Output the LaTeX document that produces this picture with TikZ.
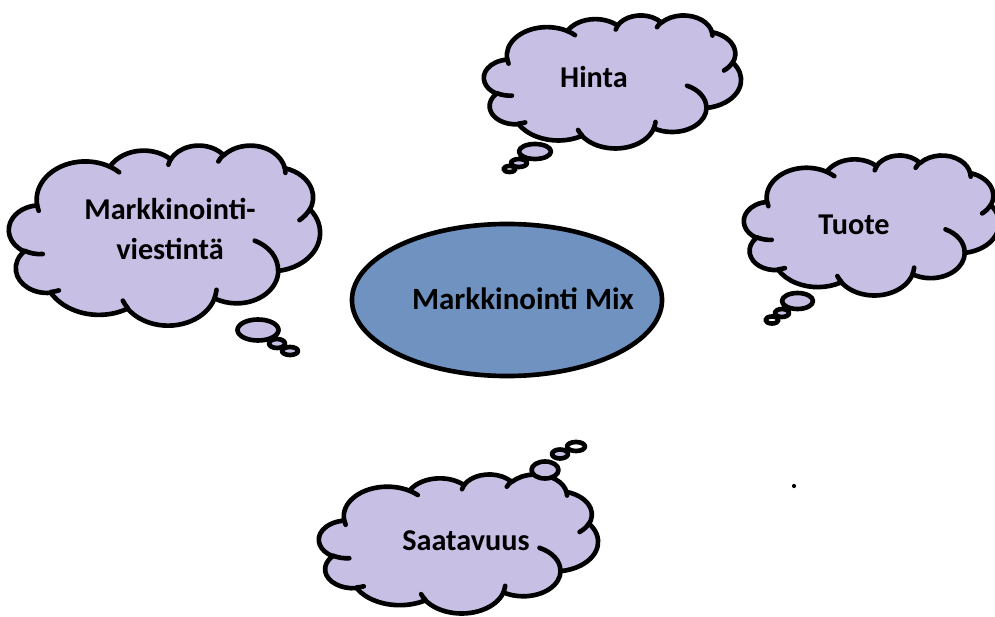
\documentclass[tikz,border=0pt]{standalone}
\usepackage{fontspec}
\setmainfont{Carlito}
\usetikzlibrary{shapes.geometric}

\definecolor{cloudfill}{RGB}{200,191,229}
\definecolor{mixfill}{RGB}{112,146,192}

% elliptic arc with a geometric start angle and sweep
\newcommand\oarc[4]{arc[start angle={pa(#3,#1,#2)},
  delta angle={#4+pd(#3+#4,#1,#2)-pd(#3,#1,#2)}, x radius=#1, y radius=#2]}

% cloud outline in a 432 x 432 box, set at (#1,#2) with size #3 x #4
\newcommand\thoughtcloud[4]{%
  \begin{scope}[shift={(#1,#2)}, xscale=#3/432, yscale=#4/432]
    \filldraw[cloudline] (39,143.7)
      \oarc{67.53}{91.90}{-190.4875}{123.7805}
      \oarc{53.33}{72.67}{-144.1024}{89.9452}
      \oarc{43.65}{59.45}{-145.8079}{99.7230}
      \oarc{48.57}{65.95}{-130.9861}{117.2417}
      \oarc{53.33}{72.73}{-78.7089}{109.0269}
      \oarc{67.75}{92.20}{-46.2673}{130.2690}
      \oarc{57.85}{78.67}{0.6250}{114.0333}
      \oarc{67.52}{92.15}{22.4516}{115.1726}
      \oarc{77.20}{105.43}{66.2426}{75.7110}
      \oarc{43.60}{59.18}{-274.9421}{146.7356}
      \oarc{43.45}{59.45}{-246.8285}{152.5189} -- cycle;
    % inner folds
    \draw[foldline]
      (46.93,261.77) \oarc{43.45}{59.45}{86.7420}{26.4295}
      (69.28,348.99) \oarc{43.60}{59.18}{73.6105}{11.4475}
      (164.78,390.90) \oarc{67.52}{92.15}{137.6242}{14.0811}
      (288.27,347.51) \oarc{67.52}{92.15}{6.4533}{15.9984}
      (341.29,229.54) \oarc{57.85}{78.67}{-70.2924}{70.9174}
      (417.98,153.54) \oarc{53.33}{72.73}{30.3180}{27.7515}
      (383.24,54.26) \oarc{48.57}{65.95}{-13.7443}{14.8589}
      (290.78,39.52) \oarc{48.57}{65.95}{-149.1815}{18.1954}
      (221.41,47.20) \oarc{43.65}{59.45}{-163.4943}{17.6864}
      (140.00,51.92) \oarc{67.53}{91.90}{-66.7070}{12.3194}
      (41.27,157.89) \oarc{67.53}{91.90}{157.6544}{11.8582};
  \end{scope}}

\begin{document}
\begin{tikzpicture}[x=0.025cm, y=-0.025cm,
    declare function={pa(\a,\r,\s)=atan2(\r*sin(\a),\s*cos(\a));
      pd(\a,\r,\s)=atan2(sin(pa(\a,\r,\s)-\a),cos(pa(\a,\r,\s)-\a));},
    cloudline/.style={draw=black, line width=3.3pt, line join=round, fill=cloudfill},
    foldline/.style={draw=black, line width=3.3pt, line cap=round},
    tipline/.style={cloudline, fill=white},
    cloudtext/.style={font=\fontsize{21.5}{28.5}\selectfont\bfseries, align=center}]

  \useasboundingbox (0,0) rectangle (995,617);

  % --- centre ---
  \node[ellipse, draw=black, line width=3.3pt, fill=mixfill,
    minimum width=7.75cm, minimum height=3.8cm] (mix) at (507,300) {};
  \node[font=\fontsize{22}{26}\selectfont\bfseries] (mixtext) at (523,299) {Markkinointi Mix};

  % --- Hinta ---
  \thoughtcloud{484}{15}{257}{133}
  \filldraw[cloudline] (535,151.5) ellipse[x radius=16, y radius=7.5]
    (519,163) ellipse[x radius=8, y radius=4];
  \filldraw[tipline] (509.5,169) ellipse[x radius=6, y radius=3];
  \node[cloudtext] (hinta) at (594,77) {Hinta};

  % --- Markkinointiviestinta ---
  \thoughtcloud{9}{145}{311}{180}
  \filldraw[cloudline] (258,330) ellipse[x radius=20.5, y radius=10.5]
    (277,343.5) ellipse[x radius=8, y radius=4.5]
    (290,351) ellipse[x radius=8, y radius=4];
  \node[cloudtext] (viestinta) at (170,229) {Markkinointi-\\viestintä};

  % --- Tuote ---
  \thoughtcloud{744}{155}{255}{140}
  \filldraw[cloudline] (797.5,301) ellipse[x radius=15.5, y radius=8]
    (782,313) ellipse[x radius=7, y radius=4];
  \filldraw[tipline] (772,320) ellipse[x radius=6.5, y radius=3.5];
  \node[cloudtext] (tuote) at (854,225) {Tuote};

  % --- Saatavuus ---
  \thoughtcloud{319}{474}{279}{139}
  \filldraw[cloudline] (545,470) ellipse[x radius=13.5, y radius=8.5]
    (560,454) ellipse[x radius=8, y radius=4.5];
  \filldraw[tipline] (576,446.5) ellipse[x radius=9, y radius=4.5];
  \node[cloudtext] (saatavuus) at (466,541) {Saatavuus};

  \node[circle, fill=black, inner sep=0pt, minimum size=3pt] (dot) at (794,486) {};

\end{tikzpicture}
\end{document}
